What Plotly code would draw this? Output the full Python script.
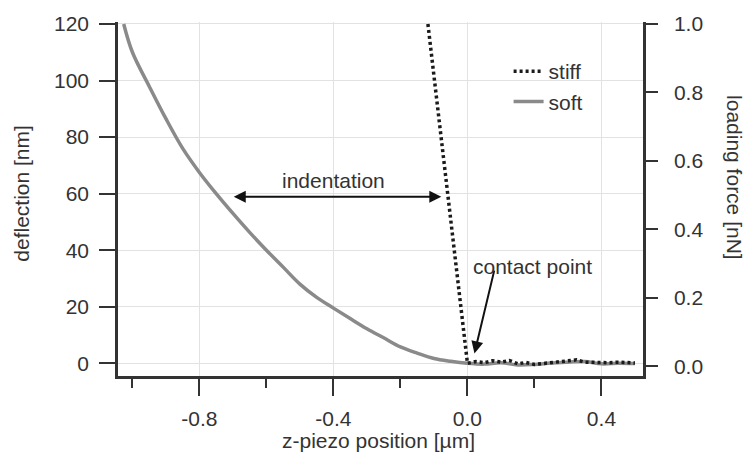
import plotly.graph_objects as go

# Soft cantilever approach curve: z-piezo position [µm] vs deflection [nm]
soft_x = [-1.026, -1.0, -0.95, -0.9, -0.85, -0.8, -0.75, -0.7, -0.65, -0.6,
          -0.55, -0.5, -0.45, -0.4, -0.35, -0.3, -0.25, -0.2, -0.15, -0.1,
          -0.05, 0.0,
          0.05, 0.1, 0.15, 0.2, 0.25, 0.3, 0.35, 0.4, 0.45, 0.5]
soft_y = [120, 110, 98, 86.5, 76, 67.5, 60, 53, 46.3, 40,
          34, 28, 23.3, 19.5, 15.8, 12.2, 9.0, 5.8, 3.6, 1.7,
          0.7, 0.0,
          -0.3, 0.2, -0.6, -0.4, 0.1, 0.4, 0.6, -0.2, 0.0, -0.1]

# Stiff cantilever: linear contact region then flat baseline
stiff_x = [-0.118, 0.0, 0.025, 0.05, 0.075, 0.1, 0.125, 0.15, 0.175, 0.2, 0.225,
           0.25, 0.275, 0.3, 0.325, 0.35, 0.375, 0.4, 0.425, 0.45, 0.475, 0.5]
stiff_y = [120, 0.0, 0.6, 0.2, 0.9, 0.4, 1.0, -0.2, 0.3, -0.4, -0.1,
           0.2, 0.5, 0.8, 1.2, 0.4, 0.3, 0.5, 0.2, 0.4, 0.3, 0.1]

x_ticks = [-0.8, -0.4, 0.0, 0.4]
x_tick_text = ["-0.8", "-0.4", "0.0", "0.4"]
y_ticks = [0, 20, 40, 60, 80, 100, 120]
y2_ticks = [0.0, 0.2, 0.4, 0.6, 0.8, 1.0]
y2_tick_text = ["0.0", "0.2", "0.4", "0.6", "0.8", "1.0"]

FONT = "Liberation Sans, Arial, sans-serif"
INK = "#333333"
FS = 21

fig = go.Figure()
fig.add_trace(go.Scatter(
    x=soft_x, y=soft_y, name="soft", mode="lines",
    line=dict(color="#8a8a8a", width=3.5, shape="spline", smoothing=1.0),
    legendrank=2,
))
fig.add_trace(go.Scatter(
    x=stiff_x, y=stiff_y, name="stiff", mode="lines",
    line=dict(color="#1a1a1a", width=3.5, dash="3px,3px"), legendrank=1,
))
# invisible trace to carry the right-hand force axis
fig.add_trace(go.Scatter(x=[0], y=[0], yaxis="y2", showlegend=False,
                         mode="markers", marker=dict(opacity=0), hoverinfo="skip"))

axis_common = dict(
    showline=True, linecolor=INK, linewidth=2.5,
    ticks="outside", tickcolor=INK, tickwidth=2,
    tickfont=dict(family=FONT, size=FS, color=INK),
    zeroline=False,
)

fig.update_layout(
    width=748, height=455,
    margin=dict(l=118, r=105, t=15, b=79),
    paper_bgcolor="white", plot_bgcolor="white",
    font=dict(family=FONT, size=FS, color=INK),
    xaxis=dict(
        **axis_common,
        range=[-1.043, 0.524],
        tickvals=x_ticks, ticktext=x_tick_text, ticklen=17,
        ticklabelstandoff=5,
        showgrid=True, gridcolor="#e2e2e2", gridwidth=1,
        minor=dict(dtick=0.2, tick0=0, ticks="outside", ticklen=9,
                   tickwidth=2, tickcolor=INK, showgrid=False),
    ),
    yaxis=dict(
        **axis_common,
        range=[-4.5, 120.7],
        tickvals=y_ticks, ticklen=16, ticklabelstandoff=6,
        showgrid=True, gridcolor="#e2e2e2", gridwidth=1,
    ),
    yaxis2=dict(
        **axis_common,
        overlaying="y", side="right",
        range=[-0.0285, 1.0057],
        tickvals=y2_ticks, ticktext=y2_tick_text, ticklen=12,
        ticklabelstandoff=12,
        showgrid=False,
    ),
    legend=dict(
        x=0.744, y=0.918, xanchor="left", yanchor="top",
        bgcolor="rgba(0,0,0,0)", font=dict(size=FS, color=INK),
        tracegroupgap=0,
    ),
    showlegend=True,
)

title_font = dict(size=FS, color=INK)
# axis titles
fig.add_annotation(x=0.496, xref="paper", y=0, yref="paper", yshift=-64,
                   xanchor="center", yanchor="middle",
                   text="z-piezo position [µm]", showarrow=False, font=title_font)
fig.add_annotation(x=0, xref="paper", xshift=-96, y=0.515, yref="paper",
                   xanchor="center", yanchor="middle",
                   text="deflection [nm]", textangle=-90, showarrow=False,
                   font=title_font)
fig.add_annotation(x=1.0, xref="paper", xshift=92, y=0.562, yref="paper",
                   xanchor="center", yanchor="middle",
                   text="loading force [nN]", textangle=90, showarrow=False,
                   font=title_font)

# indentation double arrow and label
fig.add_annotation(x=-0.078, y=58.9, ax=-0.702, ay=58.9, xref="x", yref="y",
                   axref="x", ayref="y", text="", showarrow=True,
                   arrowhead=2, startarrowhead=2, arrowside="end+start",
                   arrowsize=1.2, startarrowsize=1.2, arrowwidth=2, arrowcolor="#111")
fig.add_annotation(x=-0.40, y=64.5, xref="x", yref="y", text="indentation",
                   xanchor="center", yanchor="middle",
                   showarrow=False, font=title_font)

# contact point arrow and label
fig.add_annotation(x=0.021, y=3.5, ax=0.081, ay=33.3, xref="x", yref="y",
                   axref="x", ayref="y", text="", showarrow=True,
                   arrowhead=2, arrowsize=1.2, arrowwidth=2, arrowcolor="#111")
fig.add_annotation(x=0.01, y=34.3, xref="x", yref="y", xanchor="left",
                   yanchor="middle", text="contact point", showarrow=False,
                   font=title_font)

fig.write_html("out.html")
